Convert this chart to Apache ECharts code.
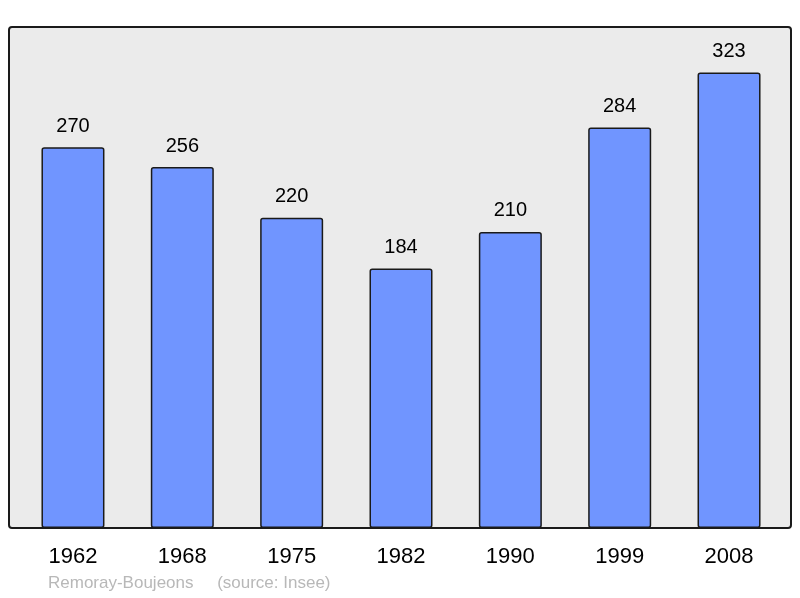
<!DOCTYPE html>
<html>
<head>
<meta charset="utf-8">
<script src="https://cdn.jsdelivr.net/npm/echarts@6/dist/echarts.min.js"></script>
<style>
html, body { margin: 0; padding: 0; background: #fff; }
#chart { width: 800px; height: 598px; }
</style>
</head>
<body>
<div id="chart"></div>
<script>
var years = ['1962', '1968', '1975', '1982', '1990', '1999', '2008'];
var population = [270, 256, 220, 184, 210, 284, 323];
var footer = 'Remoray-Boujeons     (source: Insee)';

var myChart = echarts.init(document.getElementById('chart'));
var option = {
    animation: false,
    graphic: [
        {
            type: 'rect',
            z: -10,
            shape: { x: 9, y: 27, width: 782, height: 501, r: 3 },
            style: { fill: '#ebebeb', stroke: '#1a1a1a', lineWidth: 2 }
        },
        {
            type: 'text',
            left: 48,
            top: 575,
            style: { text: footer, fill: '#b8b8b8', font: '17px "Liberation Sans", Arial, sans-serif' }
        }
    ],
    grid: { left: 18.3, right: 16.3, top: 27, bottom: 70 },
    xAxis: {
        type: 'category',
        data: years,
        axisLine: { show: false },
        axisTick: { show: false },
        axisLabel: {
            margin: 18,
            color: '#000',
            fontSize: 22,
            fontFamily: 'Liberation Sans'
        }
    },
    yAxis: {
        type: 'value',
        min: 0,
        max: 355.3,
        show: false,
        splitLine: { show: false }
    },
    series: [
        {
            type: 'bar',
            data: population,
            barWidth: 63,
            itemStyle: {
                color: '#7095ff',
                borderColor: '#1a1a1a',
                borderWidth: 1.5,
                borderRadius: 2
            },
            label: {
                show: true,
                position: 'top',
                distance: 11,
                color: '#000',
                fontSize: 20,
                fontFamily: 'Liberation Sans'
            }
        }
    ]
};
myChart.setOption(option);
</script>
</body>
</html>
